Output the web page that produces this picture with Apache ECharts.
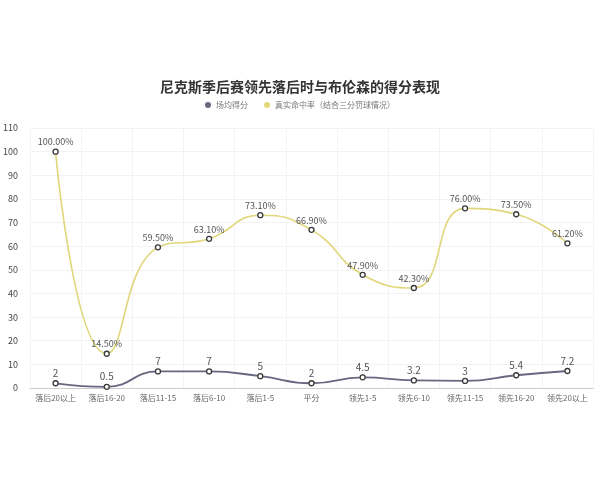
<!DOCTYPE html>
<html>
<head>
<meta charset="utf-8">
<script src="https://cdn.jsdelivr.net/npm/echarts@6/dist/echarts.min.js"></script>
<style>
  html, body { margin: 0; padding: 0; background: #fff; }
  #chart { width: 600px; height: 480px; }
</style>
</head>
<body>
<div id="chart"></div>
<script>
const categories = ["落后20以上", "落后16-20", "落后11-15", "落后6-10", "落后1-5", "平分",
  "领先1-5", "领先6-10", "领先11-15", "领先16-20", "领先20以上"];
const avgPoints = [2, 0.5, 7, 7, 5, 2, 4.5, 3.2, 3, 5.4, 7.2];
const trueShooting = [100, 14.5, 59.5, 63.1, 73.1, 66.9, 47.9, 42.3, 76, 73.5, 61.2];
const yTicks = { min: 0, max: 110, interval: 10 };

const chart = echarts.init(document.getElementById("chart"));
const font = "'Noto Sans CJK SC', 'Noto Sans', sans-serif";
const pointStyle = { color: "#fff", borderColor: "#3a3a3a", borderWidth: 1.3 };

chart.setOption({
  textStyle: { fontFamily: font },
  title: {
    text: "尼克斯季后赛领先落后时与布伦森的得分表现",
    left: "center",
    top: 75,
    textStyle: { fontSize: 14, fontWeight: "bold", color: "#333", fontFamily: font },
  },
  legend: {
    top: 96,
    left: "center",
    icon: "circle",
    itemWidth: 6,
    itemHeight: 6,
    itemGap: 16,
    textStyle: { fontSize: 8, color: "#777" },
    data: [
      { name: "场均得分", itemStyle: { color: "#66687f", borderWidth: 0 } },
      { name: "真实命中率（结合三分罚球情况）", itemStyle: { color: "#e3d97a", borderWidth: 0 } },
    ],
  },
  grid: { left: 27, right: 7, top: 128, bottom: 92 },
  xAxis: {
    type: "category",
    boundaryGap: true,
    data: categories,
    axisTick: { show: false },
    axisLine: { lineStyle: { color: "#ccc" } },
    axisLabel: { interval: 0, fontSize: 8, color: "#666", margin: 6 },
    splitLine: { show: true, lineStyle: { color: "#f4f4f4" } },
  },
  yAxis: {
    type: "value",
    min: yTicks.min,
    max: yTicks.max,
    interval: yTicks.interval,
    axisLine: { show: false },
    axisTick: { show: false },
    axisLabel: { fontSize: 9, color: "#444", margin: 12 },
    splitLine: { lineStyle: { color: "#f2f2f2" } },
  },
  series: [
    {
      name: "场均得分",
      type: "line",
      smooth: true,
      data: avgPoints,
      symbol: "circle",
      symbolSize: 5,
      showAllSymbol: true,
      lineStyle: { width: 1.8, color: "#66687f" },
      itemStyle: pointStyle,
      label: { show: true, position: "top", fontSize: 10, color: "#555", distance: 2 },
    },
    {
      name: "真实命中率（结合三分罚球情况）",
      type: "line",
      smooth: true,
      data: trueShooting,
      symbol: "circle",
      symbolSize: 5,
      showAllSymbol: true,
      lineStyle: { width: 1.6, color: "#e0d67a" },
      itemStyle: pointStyle,
      label: {
        show: true,
        position: "top",
        fontSize: 9,
        color: "#555",
        distance: 2,
        formatter: p => p.value.toFixed(2) + "%",
      },
    },
  ],
});
</script>
</body>
</html>
